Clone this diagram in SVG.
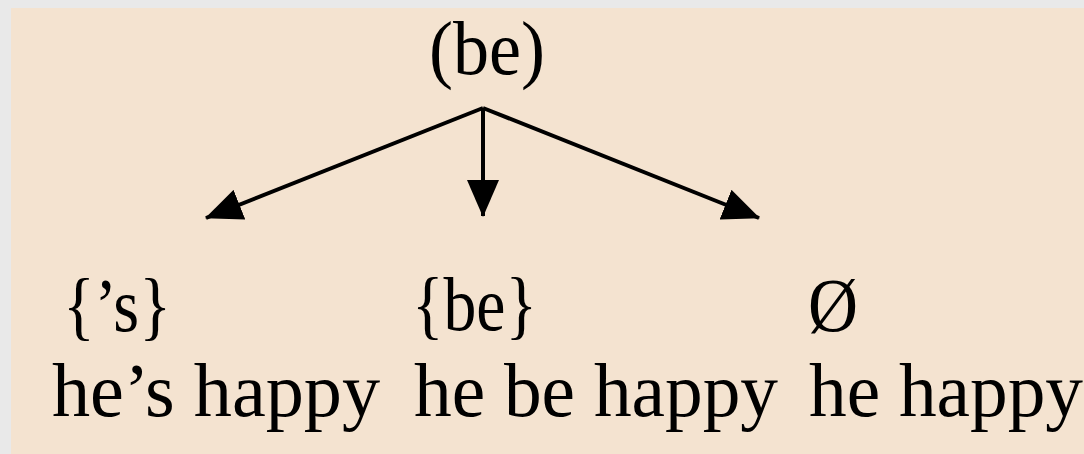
<svg xmlns="http://www.w3.org/2000/svg" width="1084" height="454" viewBox="0 0 1084 454">
  <style>
    .t { font-family: "Liberation Serif", "Times New Roman", serif; font-size: 76px; fill: #000; }
    .c { stroke: #000; stroke-width: 4; fill: none; }
  </style>
  <defs>
    <marker id="ah" markerUnits="userSpaceOnUse" viewBox="0 0 37 32" refX="36" refY="16" markerWidth="37" markerHeight="32" orient="auto">
      <path d="M0,0 L37,16 L0,32 z" fill="#000"/>
    </marker>
  </defs>
  <rect x="0" y="0" width="1084" height="454" fill="#e9e9e9"/>
  <rect x="11" y="8" width="1073" height="446" fill="#f4e3d0"/>
  <g id="connectors">
    <line class="c" x1="483" y1="108" x2="206" y2="218" marker-end="url(#ah)"/>
    <line class="c" x1="483" y1="108" x2="483" y2="216" marker-end="url(#ah)" stroke="#333"/>
    <line class="c" x1="483" y1="108" x2="759" y2="218" marker-end="url(#ah)"/>
  </g>
  <g id="node-root">
    <text class="t" x="429" y="74" textLength="116" lengthAdjust="spacingAndGlyphs">(be)</text>
  </g>
  <g id="node-s">
    <text class="t" x="63" y="331" textLength="108" lengthAdjust="spacingAndGlyphs">{’s}</text>
    <text class="t" x="52" y="416" textLength="328" lengthAdjust="spacingAndGlyphs">he’s happy</text>
  </g>
  <g id="node-be">
    <text class="t" x="412" y="330" textLength="125" lengthAdjust="spacingAndGlyphs">{be}</text>
    <text class="t" x="414" y="416" textLength="364" lengthAdjust="spacingAndGlyphs">he be happy</text>
  </g>
  <g id="node-zero">
    <text class="t" x="808" y="331" textLength="50" lengthAdjust="spacingAndGlyphs">Ø</text>
    <text class="t" x="809" y="416" textLength="274" lengthAdjust="spacingAndGlyphs">he happy</text>
  </g>
</svg>
